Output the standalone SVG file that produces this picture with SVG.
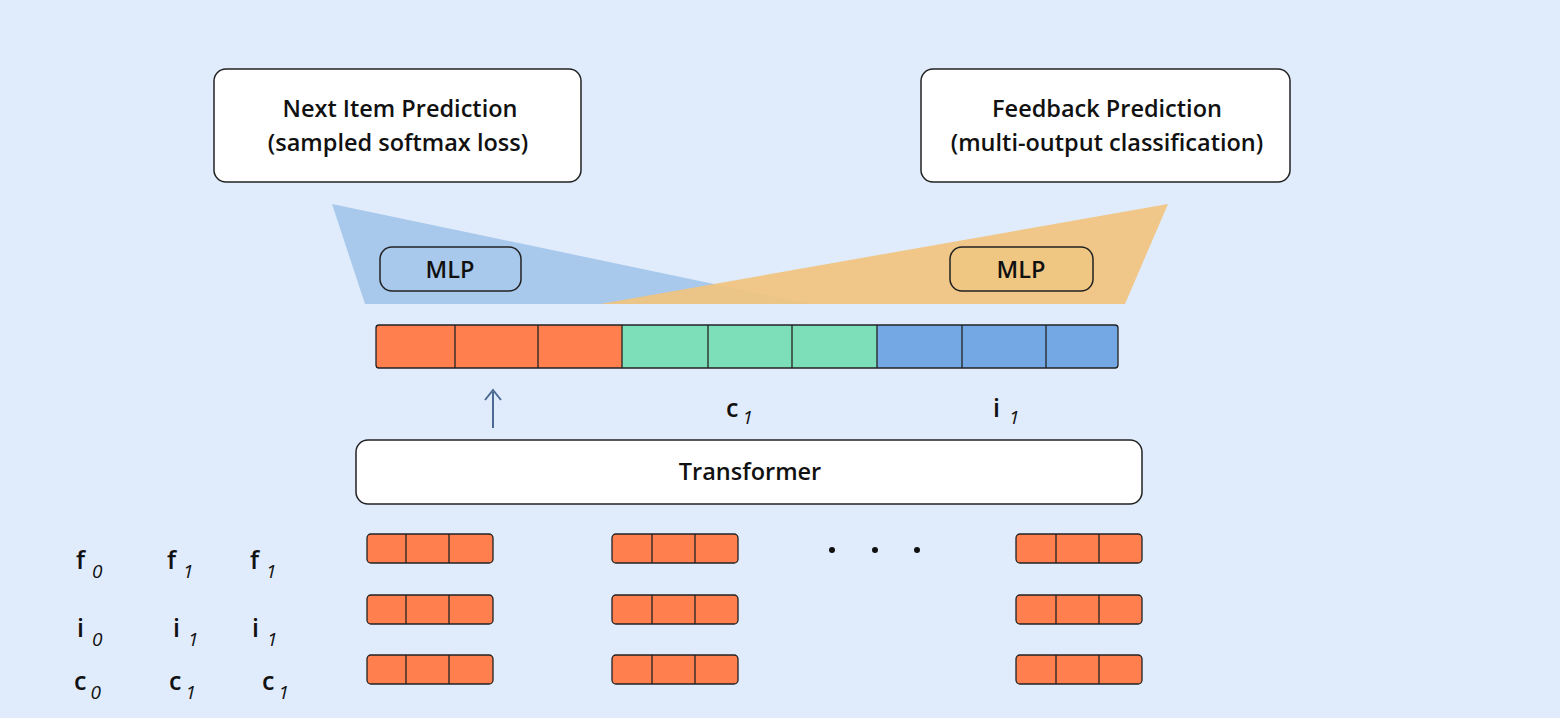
<svg xmlns="http://www.w3.org/2000/svg" width="1560" height="718" viewBox="0 0 1560 718">
<style>
text{font-family:"Open Sans","Noto Sans",sans-serif;fill:#111;}
.box{fill:#fff;stroke:#222;stroke-width:1.5;}
.mlp{stroke:#222;stroke-width:1.5;}
.cell{stroke:#222;stroke-width:1.3;}
.o{fill:#ff7f4f;}
.t{font-size:23.5px;font-weight:600;}
.lbl{font-size:25px;font-weight:600;}
.sub{font-size:19px;font-style:italic;font-weight:400;}
</style>
<rect width="1560" height="718" fill="#e0ecfc"/>
<g id="heads">
<polygon points="332,204 365,304 810,304" fill="#a9c9ec"/>
<polygon points="1168,204 1125,304 600,304" fill="#f2c37c" fill-opacity="0.9"/>
</g>
<g id="next-item"><rect class="box" x="214" y="69" width="367" height="113" rx="12"/>
<text class="t" x="400" y="117" text-anchor="middle">Next Item Prediction</text>
<text class="t" x="398" y="151" text-anchor="middle">(sampled softmax loss)</text></g>
<g id="feedback"><rect class="box" x="921" y="69" width="369" height="113" rx="12"/>
<text class="t" x="1107" y="117" text-anchor="middle">Feedback Prediction</text>
<text class="t" x="1107" y="151" text-anchor="middle">(multi-output classification)</text></g>
<g id="mlp1"><rect class="mlp" x="380" y="247" width="141" height="44" rx="12" fill="#a9c9ec"/><text class="t" x="450" y="278" text-anchor="middle">MLP</text></g>
<g id="mlp2"><rect class="mlp" x="950" y="247" width="143" height="44" rx="12" fill="#f0c683"/><text class="t" x="1021" y="278" text-anchor="middle">MLP</text></g>
<g id="embedding">
<rect x="376" y="325" width="246" height="43" class="o"/>
<rect x="622" y="325" width="255" height="43" fill="#7ddfba"/>
<rect x="877" y="325" width="241" height="43" fill="#74a8e4"/>
<path d="M455 325V368M538 325V368M622 325V368M708 325V368M792 325V368M877 325V368M962 325V368M1046 325V368" class="cell"/>
<rect x="376" y="325" width="742" height="43" rx="3" fill="none" class="cell"/>
</g>
<g id="connectors"><path d="M493 428V392M485 400L493 390L501 400" fill="none" stroke="#4a6a93" stroke-width="2"/></g>
<text class="lbl" x="726" y="417">c<tspan class="sub" dx="4" dy="7">1</tspan></text>
<text class="lbl" x="993" y="417">i<tspan class="sub" dx="9" dy="7">1</tspan></text>
<g id="transformer"><rect class="box" x="356" y="440" width="786" height="64" rx="12"/><text class="t" x="750" y="480" text-anchor="middle">Transformer</text></g>
<g id="tokens">
<g id="t1">
<g transform="translate(367,534)"><rect width="126" height="29" rx="4" class="o cell"/><path d="M39 0V29M82 0V29" class="cell"/></g>
<g transform="translate(367,595)"><rect width="126" height="29" rx="4" class="o cell"/><path d="M39 0V29M82 0V29" class="cell"/></g>
<g transform="translate(367,655)"><rect width="126" height="29" rx="4" class="o cell"/><path d="M39 0V29M82 0V29" class="cell"/></g>
</g>
<g id="t2">
<g transform="translate(612,534)"><rect width="126" height="29" rx="4" class="o cell"/><path d="M40 0V29M83 0V29" class="cell"/></g>
<g transform="translate(612,595)"><rect width="126" height="29" rx="4" class="o cell"/><path d="M40 0V29M83 0V29" class="cell"/></g>
<g transform="translate(612,655)"><rect width="126" height="29" rx="4" class="o cell"/><path d="M40 0V29M83 0V29" class="cell"/></g>
</g>
<g id="t3">
<g transform="translate(1016,534)"><rect width="126" height="29" rx="4" class="o cell"/><path d="M40 0V29M83 0V29" class="cell"/></g>
<g transform="translate(1016,595)"><rect width="126" height="29" rx="4" class="o cell"/><path d="M40 0V29M83 0V29" class="cell"/></g>
<g transform="translate(1016,655)"><rect width="126" height="29" rx="4" class="o cell"/><path d="M40 0V29M83 0V29" class="cell"/></g>
</g>
<circle cx="832" cy="550" r="3" fill="#111"/><circle cx="875" cy="550" r="3" fill="#111"/><circle cx="917" cy="550" r="3" fill="#111"/>
</g>
<g id="legend">
<text class="lbl" x="76" y="569">f<tspan class="sub" dx="7" dy="9">0</tspan></text>
<text class="lbl" x="167" y="569">f<tspan class="sub" dx="7" dy="9">1</tspan></text>
<text class="lbl" x="250" y="569">f<tspan class="sub" dx="7" dy="9">1</tspan></text>
<text class="lbl" x="77" y="637">i<tspan class="sub" dx="8" dy="9">0</tspan></text>
<text class="lbl" x="173" y="637">i<tspan class="sub" dx="8" dy="9">1</tspan></text>
<text class="lbl" x="252" y="637">i<tspan class="sub" dx="8" dy="9">1</tspan></text>
<text class="lbl" x="74" y="690">c<tspan class="sub" dx="4" dy="9">0</tspan></text>
<text class="lbl" x="169" y="690">c<tspan class="sub" dx="4" dy="9">1</tspan></text>
<text class="lbl" x="262" y="690">c<tspan class="sub" dx="4" dy="9">1</tspan></text>
</g>
</svg>
